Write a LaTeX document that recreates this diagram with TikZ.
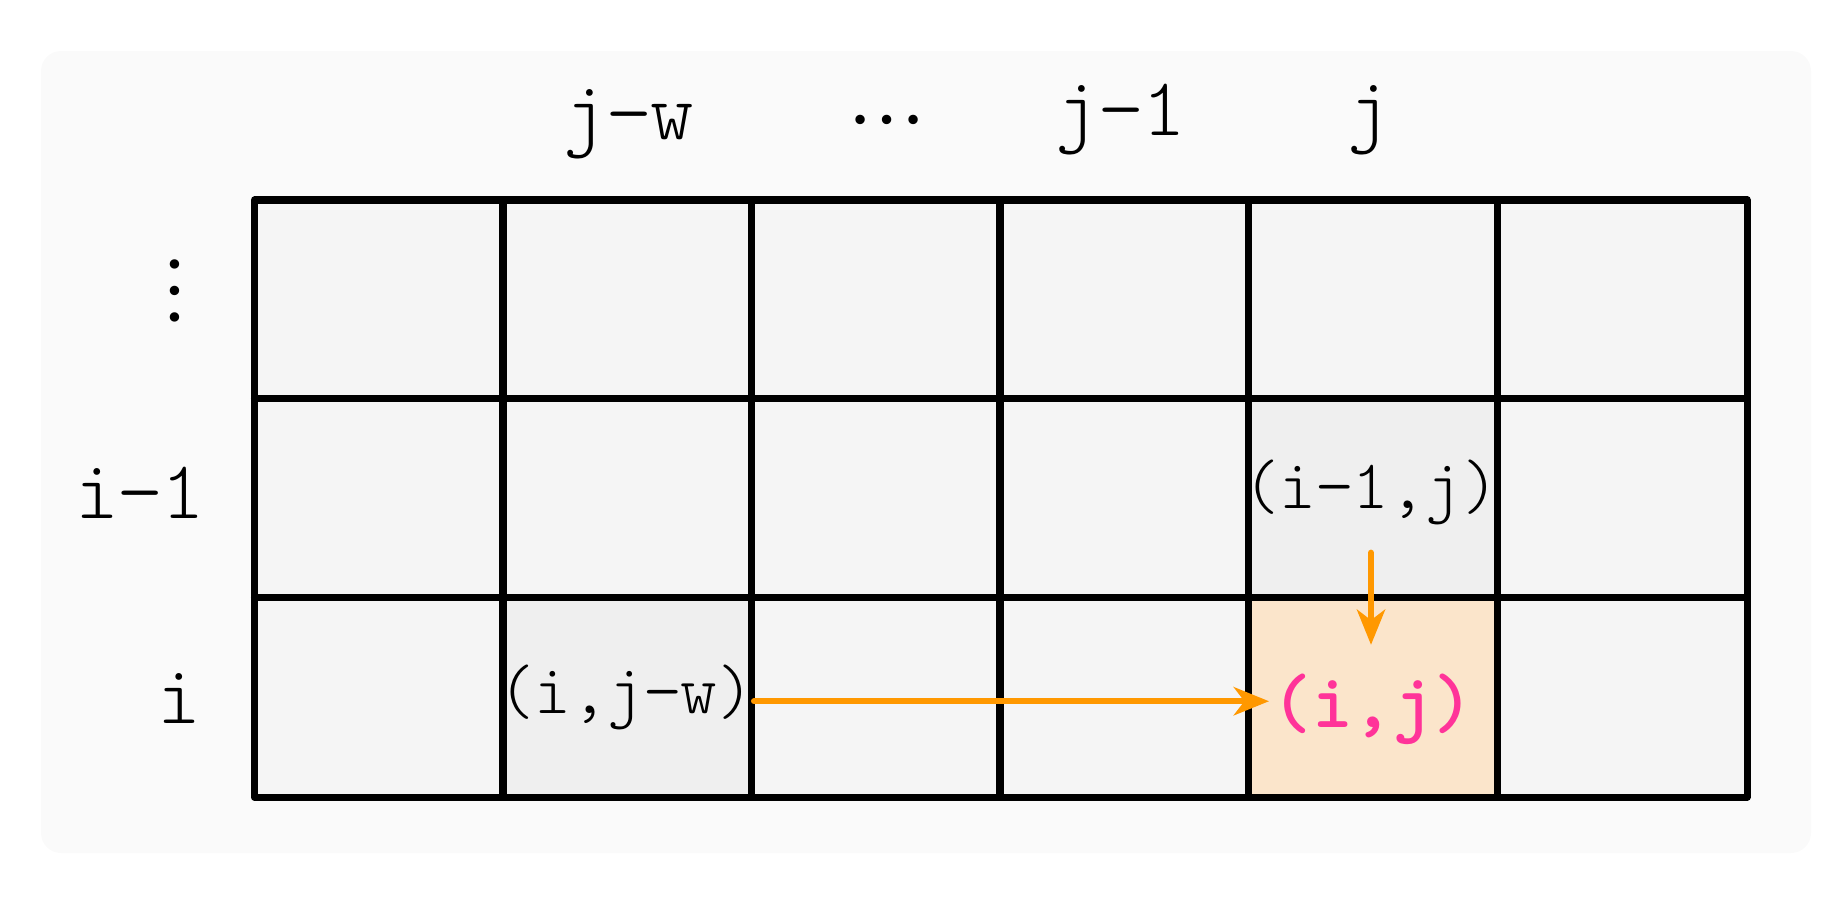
\documentclass[tikz,border=0pt]{standalone}
\usepackage{fontspec}
\newfontfamily\lightmono{Latin Modern Mono Light}
\newfontfamily\dotfont{Liberation Serif}
\usepackage{xcolor}
\usetikzlibrary{arrows.meta}
\definecolor{panel}{RGB}{250,250,250}
\definecolor{cellbg}{RGB}{245,245,245}
\definecolor{visited}{RGB}{239,239,239}
\definecolor{target}{RGB}{251,229,203}
\definecolor{hotlabel}{RGB}{255,51,153}
\definecolor{flowc}{RGB}{255,152,0}

\begin{document}
\begin{tikzpicture}[x=0.01cm, y=-0.01cm,
    cell/.style={fill=cellbg, minimum width=2.485cm, minimum height=1.985cm, inner sep=0pt, anchor=north west},
    gridline/.style={line width=2pt, line cap=round, line join=round},
    axislabel/.style={font=\lightmono\fontsize{23.5}{28}\selectfont, inner sep=0pt},
    dotlabel/.style={font=\dotfont\fontsize{22.5}{26}\selectfont, inner sep=0pt},
    celllabel/.style={font=\lightmono\fontsize{19.8}{23}\selectfont, inner sep=2pt},
    curlabel/.style={font=\ttfamily\bfseries\fontsize{22}{26}\selectfont, text=hotlabel, inner sep=0.5pt},
    flowarrow/.style={draw=flowc, line width=1.7pt, line cap=round, -{Stealth[length=10pt, width=8pt, inset=3pt]}}
  ]
  \useasboundingbox (0,0) rectangle (1848,896);
  \fill[panel, rounded corners=0.2cm] (41,51) rectangle (1811,853);

  % cells
  \foreach \r in {1,2,3}
    \foreach \c in {1,...,6}
      \node[cell] (c-\r-\c) at ({254.5+248.5*(\c-1)},{200+198.5*(\r-1)}) {};
  \fill[visited] (c-2-5.north west) rectangle (c-2-5.south east);
  \fill[visited] (c-3-2.north west) rectangle (c-3-2.south east);
  \fill[target] (c-3-5.north west) rectangle (c-3-5.south east);

  % grid
  \draw[gridline] (c-1-1.north west) rectangle (c-3-6.south east);
  \foreach \c in {2,...,6}
    \draw[gridline] (c-1-\c.north west) -- (c-3-\c.south west);
  \foreach \r in {2,3}
    \draw[gridline] (c-\r-1.north west) -- (c-\r-6.north east);

  % column and row labels
  \node[axislabel, anchor=base] (colJW) at (629,139) {j−w};
  \node[dotlabel] (colDots) at (887,120) {…};
  \node[axislabel, anchor=base] (colJm1) at (1121,135) {j−1};
  \node[axislabel, anchor=base] (colJ) at (1369,135) {j};
  \node[dotlabel, rotate=90] (rowDots) at (175,291) {…};
  \node[axislabel, anchor=base east] (rowIm1) at (206,518) {i−1};
  \node[axislabel, anchor=base east] (rowI) at (202,723) {i};

  % cell labels
  \node[celllabel] (up) at (1371,492) {(i−1,j)};
  \node[celllabel] (left) at (626,697) {(i,j−w)};
  \node[curlabel] (cur) at (1373,709) {(i,j)};

  \draw[flowarrow, shorten <=-2.2pt] ([yshift=-1.2pt]left.east) -- ([yshift=-1.2pt]left.east -| cur.west);
  \draw[flowarrow, shorten <=5.8pt, shorten >=7.5pt] (up.south) -- (up.south |- cur.north);
\end{tikzpicture}
\end{document}
